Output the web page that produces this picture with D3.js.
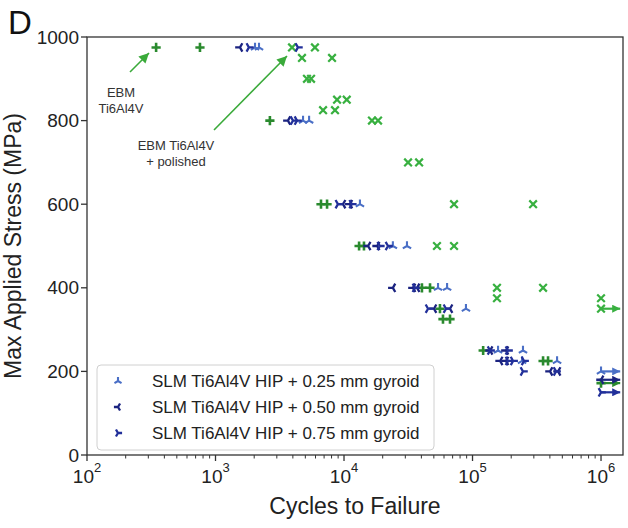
<!DOCTYPE html>
<html>
<head>
<meta charset="utf-8">
<script src="https://cdn.jsdelivr.net/npm/d3@7"></script>
<style>
  html, body { margin: 0; padding: 0; background: #fff; }
  svg { display: block; font-family: "Liberation Sans", Arial, Helvetica, sans-serif; }
</style>
</head>
<body>
<svg id="chart" width="628" height="528"></svg>
<script>
// Fatigue data: [cycles to failure, max applied stress (MPa)]
const ebmAsBuilt = [[345,975],[757,975],[2650,800],[6620,600],[7380,600],[13100,500],[14300,500],
  [40400,400],[46700,400],[55800,350],[58900,325],[66800,325],[121000,250],[354000,225],[387000,225]];
const ebmPolished = [[3940,975],[5940,975],[4710,950],[8070,950],[5150,900],[5540,900],[8830,850],[10500,850],
  [6870,825],[8510,825],[16500,800],[18400,800],[31500,700],[38400,700],[71800,600],[296000,600],
  [52900,500],[71800,500],[155000,400],[354000,400],[155000,375],[1000000,375]];
const gyroid025 = [[2030,975],[2180,975],[4800,800],[5350,800],[13300,600],[24000,500],[30900,500],
  [53900,400],[63400,400],[88900,350],[158000,250],[247000,250],[243000,225],[455000,225]];
const gyroid050 = [[1550,975],[3660,800],[9820,600],[11100,600],[15400,500],[18100,500],[24000,400],
  [34400,400],[37000,400],[50100,350],[66800,350],[137000,250],[182000,250],[164000,225],[182000,225],
  [401000,200],[463000,200]];
const gyroid075 = [[1820,975],[4380,975],[4010,800],[4310,800],[8970,600],[11500,600],[19000,500],
  [22000,500],[35700,400],[45100,350],[62200,350],[137000,250],[189000,250],[189000,225],[207000,225],
  [252000,225],[247000,200],[447000,200]];

// Run-out specimens (did not fail), drawn with a right-pointing arrow
const runOutEbm = [[1000000,172]];
const runOutPolished = [[1000000,350]];
const runOut025 = [[1000000,200]];
const runOut050 = [[1000000,180]];
const runOut075 = [[1000000,150]];

const xTickValues = [1e2, 1e3, 1e4, 1e5, 1e6];
const xTickExponents = ["2", "3", "4", "5", "6"];
const yTickValues = [0, 200, 400, 600, 800, 1000];

const legendLabels = ["SLM Ti6Al4V HIP + 0.25 mm gyroid",
                      "SLM Ti6Al4V HIP + 0.50 mm gyroid",
                      "SLM Ti6Al4V HIP + 0.75 mm gyroid"];

const svg = d3.select("#chart");
const plot = { left: 87, right: 623, top: 37, bottom: 455 };

const x = d3.scaleLog().domain([100, Math.pow(10, 6.171)]).range([plot.left, plot.right]);
const y = d3.scaleLinear().domain([0, 1000]).range([plot.bottom, plot.top]);

// marker glyphs (matplotlib-style)
const glyph = {
  plus: r => `M${-r},0H${r}M0,${-r}V${r}`,
  cross: r => `M${-r},${-r}L${r},${r}M${-r},${r}L${r},${-r}`,
  triUp: r => `M0,0V${-r}M0,0L${r*0.866},${r*0.5}M0,0L${-r*0.866},${r*0.5}`,
  triLeft: r => `M0,0H${-r}M0,0L${r*0.5},${-r*0.866}M0,0L${r*0.5},${r*0.866}`,
  triRight: r => `M0,0H${r}M0,0L${-r*0.5},${-r*0.866}M0,0L${-r*0.5},${r*0.866}`
};

const series = [
  { data: ebmAsBuilt, runOut: runOutEbm, shape: "plus", size: 4.6, width: 2.6, color: "#2a8a2e" },
  { data: ebmPolished, runOut: runOutPolished, shape: "cross", size: 3.8, width: 2.2, color: "#38b040" },
  { data: gyroid025, runOut: runOut025, shape: "triUp", size: 4.8, width: 2.1, color: "#4a6fc6" },
  { data: gyroid050, runOut: runOut050, shape: "triLeft", size: 4.8, width: 2.3, color: "#1b2380" },
  { data: gyroid075, runOut: runOut075, shape: "triRight", size: 4.8, width: 2.3, color: "#22309a" }
];

const defs = svg.append("defs");
function arrowHead(id, color, w, h) {
  defs.append("marker").attr("id", id)
    .attr("viewBox", "0 0 10 10").attr("refX", 10).attr("refY", 5)
    .attr("markerUnits", "userSpaceOnUse")
    .attr("markerWidth", w).attr("markerHeight", h).attr("orient", "auto")
    .append("path").attr("d", "M0,0L10,5L0,10Z").attr("fill", color);
}
series.forEach((s, i) => arrowHead("ro" + i, s.color, 8, 8));
arrowHead("annot", "#3aaa3a", 10, 10);

// axes frame
const axisColor = "#333";
svg.append("rect")
  .attr("x", plot.left).attr("y", plot.top)
  .attr("width", plot.right - plot.left).attr("height", plot.bottom - plot.top)
  .attr("fill", "none").attr("stroke", axisColor).attr("stroke-width", 1.3);

// x ticks: major + log minor
const minor = [];
for (let e = 2; e <= 6; e++) for (let m = 2; m <= 9; m++) {
  const v = m * Math.pow(10, e);
  if (v <= x.domain()[1]) minor.push(v);
}
svg.append("g").selectAll("line").data(minor).join("line")
  .attr("x1", d => x(d)).attr("x2", d => x(d))
  .attr("y1", plot.bottom).attr("y2", plot.bottom + 3.5)
  .attr("stroke", axisColor).attr("stroke-width", 1);
svg.append("g").selectAll("line").data(xTickValues).join("line")
  .attr("x1", d => x(d)).attr("x2", d => x(d))
  .attr("y1", plot.bottom).attr("y2", plot.bottom + 6)
  .attr("stroke", axisColor).attr("stroke-width", 1.3);
const xl = svg.append("g").selectAll("text").data(xTickValues).join("text")
  .attr("x", d => x(d)).attr("y", 483)
  .attr("text-anchor", "middle").attr("font-size", 19).attr("fill", "#222");
xl.append("tspan").text("10");
xl.append("tspan").attr("dy", -11).attr("font-size", 13).text((d, i) => xTickExponents[i]);

// y ticks
svg.append("g").selectAll("line").data(yTickValues).join("line")
  .attr("x1", plot.left - 6).attr("x2", plot.left)
  .attr("y1", d => y(d)).attr("y2", d => y(d))
  .attr("stroke", axisColor).attr("stroke-width", 1.3);
svg.append("g").selectAll("text").data(yTickValues).join("text")
  .attr("x", plot.left - 8).attr("y", d => y(d)).attr("dy", "0.35em")
  .attr("text-anchor", "end").attr("font-size", 19).attr("fill", "#222")
  .text(d => d);

// axis titles
svg.append("text")
  .attr("x", (plot.left + plot.right) / 2).attr("y", 514)
  .attr("text-anchor", "middle").attr("font-size", 23).attr("fill", "#222")
  .text("Cycles to Failure");
svg.append("text")
  .attr("transform", `translate(21,${(plot.top + plot.bottom) / 2}) rotate(-90)`)
  .attr("text-anchor", "middle").attr("font-size", 23).attr("fill", "#222")
  .text("Max Applied Stress (MPa)");

// panel letter
svg.append("text").attr("x", 8).attr("y", 34)
  .attr("font-size", 33).attr("fill", "#111").text("D");

// run-out arrows
series.forEach((s, i) => {
  svg.append("g").selectAll("line").data(s.runOut).join("line")
    .attr("x1", d => x(d[0])).attr("x2", d => x(d[0] * 1.41))
    .attr("y1", d => y(d[1])).attr("y2", d => y(d[1]))
    .attr("stroke", s.color).attr("stroke-width", 2.2)
    .attr("marker-end", `url(#ro${i})`);
});

// data markers
series.forEach(s => {
  svg.append("g").selectAll("path").data(s.data.concat(s.runOut)).join("path")
    .attr("transform", d => `translate(${x(d[0])},${y(d[1])})`)
    .attr("d", glyph[s.shape](s.size))
    .attr("fill", "none").attr("stroke", s.color)
    .attr("stroke-width", s.width).attr("stroke-linecap", "butt");
});

// annotations
const annotColor = "#3aaa3a";
svg.append("line").attr("x1", 130).attr("y1", 72).attr("x2", 149).attr("y2", 53)
  .attr("stroke", annotColor).attr("stroke-width", 1.6).attr("marker-end", "url(#annot)");
svg.append("line").attr("x1", 214).attr("y1", 130).attr("x2", 287).attr("y2", 56)
  .attr("stroke", annotColor).attr("stroke-width", 1.6).attr("marker-end", "url(#annot)");
const a1 = svg.append("text").attr("text-anchor", "middle").attr("font-size", 13).attr("fill", "#333");
a1.append("tspan").attr("x", 121).attr("y", 97).text("EBM");
a1.append("tspan").attr("x", 121).attr("y", 113).text("Ti6Al4V");
const a2 = svg.append("text").attr("text-anchor", "middle").attr("font-size", 13).attr("fill", "#333");
a2.append("tspan").attr("x", 176).attr("y", 150).text("EBM Ti6Al4V");
a2.append("tspan").attr("x", 176).attr("y", 166).text("+ polished");

// legend
const lg = svg.append("g");
lg.append("rect").attr("x", 97).attr("y", 365).attr("width", 337).attr("height", 85)
  .attr("rx", 4).attr("fill", "#fff").attr("fill-opacity", 0.85)
  .attr("stroke", "#d0d0d0").attr("stroke-width", 1);
const legendSeries = series.slice(2);
legendSeries.forEach((s, i) => {
  const cy = 381 + i * 26;
  lg.append("path").attr("transform", `translate(118,${cy})`)
    .attr("d", glyph[s.shape](s.size * 0.85)).attr("fill", "none")
    .attr("stroke", s.color).attr("stroke-width", s.width);
  lg.append("text").attr("x", 152).attr("y", cy).attr("dy", "0.35em")
    .attr("font-size", 17).attr("fill", "#222").text(legendLabels[i]);
});
</script>
</body>
</html>
